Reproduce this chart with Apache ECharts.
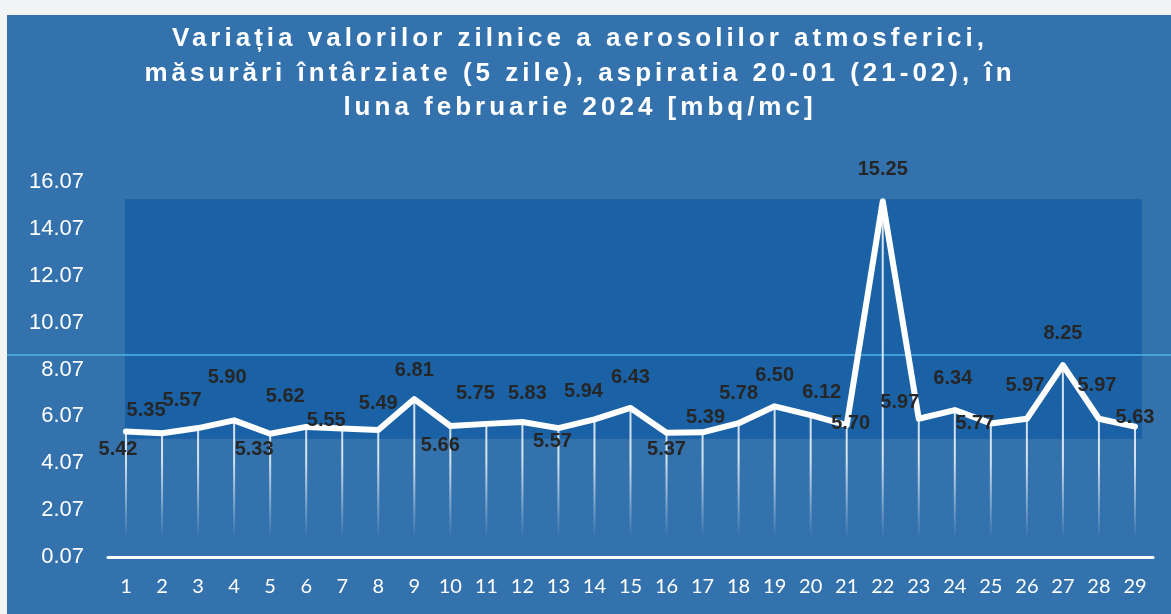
<!DOCTYPE html>
<html>
<head>
<meta charset="utf-8">
<title>Aerosoli februarie 2024</title>
<script src="https://cdn.jsdelivr.net/npm/echarts@6/dist/echarts.min.js"></script>
<style>
  html, body { margin: 0; padding: 0; background: #f3f4f5; }
  #chart { width: 1171px; height: 614px; }
</style>
</head>
<body>
<div id="chart"></div>
<script>
// zilele lunii
const days = ['1', '2', '3', '4', '5', '6', '7', '8', '9', '10', '11', '12', '13', '14', '15',
  '16', '17', '18', '19', '20', '21', '22', '23', '24', '25', '26', '27', '28', '29']
// valori zilnice [mbq/mc]
const values = [5.42, 5.35, 5.57, 5.90, 5.33, 5.62, 5.55, 5.49, 6.81, 5.66, 5.75, 5.83, 5.57, 5.94, 6.43,
  5.37, 5.39, 5.78, 6.50, 6.12, 5.70, 15.25, 5.97, 6.34, 5.77, 5.97, 8.25, 5.97, 5.63]
const yTicks = [0.07, 2.07, 4.07, 6.07, 8.07, 10.07, 12.07, 14.07, 16.07]

// unde sta eticheta fata de punct (ca in Excel)
const labelShift = [
  [-8, 18], [-16, -23], [-16, -28], [-7, -43], [-16, 16], [-21, -30], [-16, -8], [0, -26],
  [0, -29], [-10, 19], [-11, -30], [5, -29], [-6, 13], [-11, -28], [0, -30], [0, 17],
  [3, -15], [0, -30], [0, -31], [11, -23], [4, -2], [0, -32], [-19, -16], [-2, -32],
  [-16, 0], [-2, -33], [0, -32], [-2, -33], [0, -9]
]

// titlul are litere rarite; canvas-ul stie letterSpacing, zrender nu il expune
const baseFillText = CanvasRenderingContext2D.prototype.fillText
CanvasRenderingContext2D.prototype.fillText = function (text, x, y, maxWidth) {
  this.letterSpacing = this.font.indexOf('26px') >= 0 ? '4px' : '0px'
  if (maxWidth === undefined) return baseFillText.call(this, text, x, y)
  return baseFillText.call(this, text, x, y, maxWidth)
}

const chart = echarts.init(document.getElementById('chart'))

const option = {
  backgroundColor: '#3372ad',
  title: {
    text: 'Variația valorilor zilnice a aerosolilor atmosferici,\nmăsurări întârziate (5 zile), aspiratia 20-01 (21-02), în\nluna februarie 2024 [mbq/mc]',
    left: 575,
    top: 17,
    textAlign: 'center',
    textStyle: {
      color: '#ffffff',
      fontFamily: 'Liberation Sans',
      fontWeight: 'bold',
      fontSize: 26,
      lineHeight: 34.5
    }
  },
  grid: {
    left: 108,
    right: 18,
    top: 182,
    bottom: 57
  },
  xAxis: {
    type: 'category',
    data: days,
    axisTick: { show: false },
    axisLine: {
      lineStyle: { color: '#ffffff', width: 3 }
    },
    axisLabel: {
      color: '#ffffff',
      fontFamily: 'Lato',
      fontSize: 20,
      margin: 20,
      interval: 0
    }
  },
  yAxis: {
    type: 'value',
    min: 0.07,
    max: 16.07,
    splitLine: { show: false },
    axisLine: { show: false },
    axisTick: { show: false },
    axisLabel: {
      color: '#ffffff',
      fontFamily: 'Liberation Sans',
      fontSize: 22,
      margin: 24,
      customValues: yTicks,
      formatter: v => v.toFixed(2)
    }
  },
  series: [
    {
      // liniile verticale de la punct la axa
      type: 'bar',
      data: values,
      barWidth: 2,
      silent: true,
      itemStyle: {
        color: {
          type: 'linear',
          x: 0, y: 182, x2: 0, y2: 557,
          global: true,
          colorStops: [
            { offset: 0, color: 'rgba(255,255,255,0.85)' },
            { offset: 0.74, color: 'rgba(255,255,255,0.8)' },
            { offset: 0.95, color: 'rgba(255,255,255,0)' }
          ]
        }
      }
    },
    {
      type: 'line',
      data: values.map((v, i) => ({ value: v, label: { offset: labelShift[i] } })),
      symbol: 'circle',
      symbolSize: 3,
      itemStyle: { color: '#ffffff' },
      lineStyle: { color: '#ffffff', width: 6, join: 'round', cap: 'round' },
      label: {
        show: true,
        position: 'inside',
        color: '#262626',
        fontFamily: 'Liberation Sans',
        fontWeight: 'bold',
        fontSize: 20,
        formatter: p => p.value.toFixed(2)
      },
      z: 3
    }
  ]
}

chart.setOption(option)

// fundalul mai inchis din zona datelor
const topLeft = chart.convertToPixel({ gridIndex: 0 }, [0, Math.max(...values)])
const botRight = chart.convertToPixel({ gridIndex: 0 }, [days.length - 1, Math.min(...values)])
const rx = topLeft[0] - 1
const ry = topLeft[1] - 2
const rw = botRight[0] + 7 - rx
const rh = botRight[1] + 5 - ry

chart.setOption({
  graphic: [
    { type: 'rect', z: -10, shape: { x: 0, y: 0, width: 1171, height: 15 }, style: { fill: '#f3f4f5' } },
    { type: 'rect', z: -10, shape: { x: 0, y: 0, width: 7, height: 614 }, style: { fill: '#f3f4f5' } },
    { type: 'rect', z: -9, shape: { x: rx, y: ry, width: rw, height: rh }, style: { fill: '#1a62a5' } },
    { type: 'line', z: -8, shape: { x1: 7, y1: 355, x2: 1171, y2: 355 }, style: { stroke: '#4fb3e6', lineWidth: 1.5 } }
  ]
})
</script>
</body>
</html>
